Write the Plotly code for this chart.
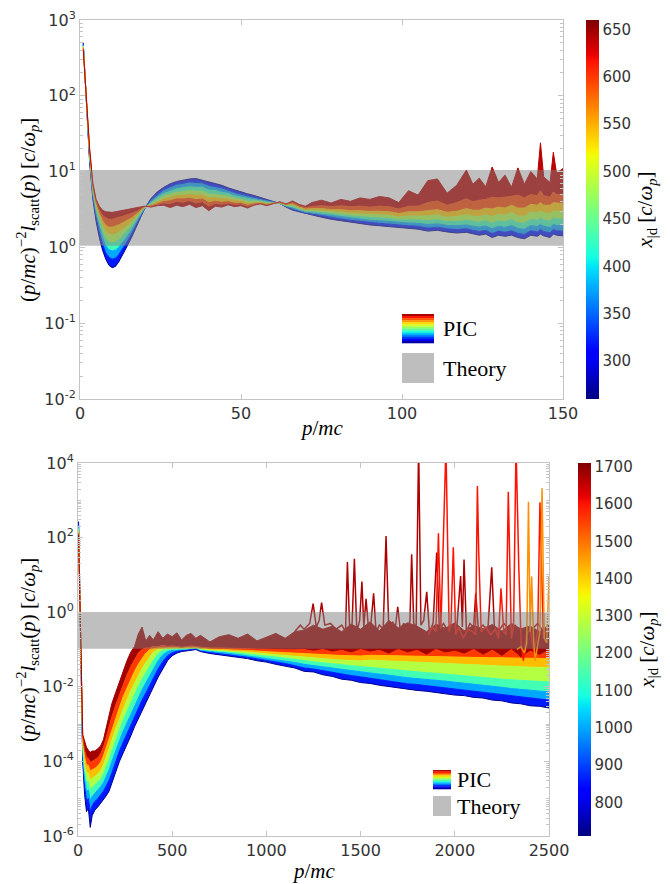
import plotly.graph_objects as go
from plotly.colors import sample_colorscale

# ---------------- data: top panel ----------------
P_TOP = [1, 2, 3, 4, 5, 6, 7, 8, 9, 10, 11, 12, 13, 14, 16, 18, 20, 22, 24, 26, 28, 30, 32, 34, 36, 38,
         40, 42, 44, 46, 48, 50, 52, 54, 56, 58, 60, 62, 64, 66, 68, 70, 72, 75, 78, 81, 84, 87, 90, 93,
         96, 99, 102, 105, 108, 111, 114, 117, 120, 122, 124, 126, 128, 130, 132, 134, 136, 138, 140,
         142, 143, 144, 146, 147, 148, 150]
XD_TOP = [265, 320, 375, 430, 485, 540, 595, 640]
T265 = [500, 75, 13, 4.3, 2.2, 1.35, 0.92, 0.7, 0.58, 0.54, 0.56, 0.64, 0.76, 0.92, 1.35, 2.1, 3.2, 4.4,
        5.4, 6.2, 6.9, 7.4, 7.7, 8.0, 8.1, 7.7, 7.3, 7.0, 6.6, 6.1, 5.7, 5.4, 5.1, 4.85, 4.55, 4.35, 4.1,
        3.8, 3.4, 3.1, 2.95, 2.8, 2.65, 2.5, 2.35, 2.25, 2.15, 2.05, 1.98, 1.93, 1.88, 1.82, 1.78, 1.74,
        1.64, 1.68, 1.6, 1.55, 1.58, 1.5, 1.45, 1.5, 1.35, 1.45, 1.4, 1.45, 1.35, 1.3, 1.45, 1.4, 1.5,
        1.42, 1.35, 1.5, 1.45, 1.42]
T320 = [490, 76, 14, 4.6, 2.5, 1.6, 1.1, 0.85, 0.74, 0.70, 0.72, 0.8, 0.92, 1.08, 1.5, 2.2, 3.2, 4.2,
        5.0, 5.8, 6.3, 6.8, 7.0, 7.3, 7.2, 7.1, 6.6, 6.4, 6.1, 5.7, 5.3, 5.05, 4.8, 4.6, 4.4, 4.2, 4.0,
        3.8, 3.45, 3.2, 3.0, 2.85, 2.75, 2.62, 2.48, 2.38, 2.28, 2.2, 2.12, 2.08, 2.03, 1.96, 1.93, 1.9,
        1.8, 1.85, 1.76, 1.72, 1.76, 1.68, 1.62, 1.68, 1.52, 1.64, 1.58, 1.66, 1.53, 1.48, 1.66, 1.6,
        1.72, 1.62, 1.55, 1.72, 1.66, 1.63]
T375 = [475, 77, 15, 5.0, 2.8, 1.9, 1.35, 1.05, 0.93, 0.90, 0.92, 1.0, 1.12, 1.28, 1.68, 2.35, 3.25, 4.0,
        4.7, 5.3, 5.7, 6.1, 6.3, 6.5, 6.4, 6.4, 5.9, 5.8, 5.5, 5.3, 4.95, 4.75, 4.5, 4.4, 4.25, 4.1, 3.95,
        3.8, 3.5, 3.3, 3.1, 2.92, 2.85, 2.75, 2.62, 2.52, 2.43, 2.36, 2.28, 2.25, 2.2, 2.12, 2.1, 2.08,
        2.0, 2.05, 1.95, 1.93, 1.98, 1.9, 1.85, 1.92, 1.76, 1.9, 1.83, 1.95, 1.78, 1.73, 1.95, 1.88,
        2.02, 1.9, 1.83, 2.02, 1.95, 1.93]
T430 = [460, 78, 16, 5.4, 3.1, 2.2, 1.6, 1.3, 1.18, 1.15, 1.18, 1.25, 1.38, 1.52, 1.9, 2.5, 3.3, 3.85,
        4.4, 4.9, 5.2, 5.5, 5.6, 5.8, 5.7, 5.7, 5.2, 5.2, 5.0, 4.9, 4.6, 4.45, 4.2, 4.2, 4.1, 3.95, 3.9,
        3.8, 3.55, 3.45, 3.2, 3.0, 2.98, 2.9, 2.78, 2.7, 2.6, 2.55, 2.47, 2.45, 2.4, 2.3, 2.32, 2.3,
        2.25, 2.32, 2.2, 2.2, 2.28, 2.2, 2.15, 2.25, 2.08, 2.25, 2.18, 2.35, 2.12, 2.08, 2.35, 2.28,
        2.45, 2.3, 2.22, 2.45, 2.38, 2.35]
T485 = [450, 80, 17, 5.8, 3.4, 2.5, 1.9, 1.6, 1.48, 1.45, 1.5, 1.58, 1.7, 1.82, 2.15, 2.65, 3.35, 3.7,
        4.1, 4.5, 4.7, 5.0, 5.0, 5.2, 5.0, 5.1, 4.6, 4.7, 4.5, 4.5, 4.25, 4.2, 3.95, 4.0, 4.0, 3.85, 3.85,
        3.85, 3.6, 3.6, 3.3, 3.1, 3.1, 3.05, 2.95, 2.9, 2.8, 2.78, 2.7, 2.7, 2.65, 2.52, 2.6, 2.58, 2.6,
        2.68, 2.5, 2.55, 2.68, 2.58, 2.55, 2.7, 2.55, 2.75, 2.65, 2.9, 2.6, 2.58, 2.95, 2.85, 3.05, 2.85,
        2.8, 3.05, 3.0, 2.95]
T540 = [440, 82, 18, 6.2, 3.7, 2.8, 2.25, 1.95, 1.85, 1.85, 1.9, 1.98, 2.08, 2.2, 2.45, 2.85, 3.4, 3.6,
        3.9, 4.15, 4.25, 4.5, 4.5, 4.6, 4.4, 4.5, 4.0, 4.2, 4.05, 4.15, 3.95, 3.95, 3.7, 3.85, 3.9, 3.75,
        3.8, 3.9, 3.65, 3.75, 3.4, 3.2, 3.25, 3.25, 3.15, 3.15, 3.05, 3.05, 2.98, 3.0, 2.95, 2.8, 2.95,
        2.95, 3.05, 3.15, 2.9, 3.0, 3.25, 3.1, 3.1, 3.3, 3.2, 3.4, 3.3, 3.6, 3.3, 3.3, 3.7, 3.6, 3.9,
        3.6, 3.6, 3.9, 3.85, 3.8]
T595 = [425, 84, 19, 6.6, 4.0, 3.1, 2.65, 2.45, 2.35, 2.35, 2.4, 2.45, 2.55, 2.65, 2.8, 3.05, 3.45, 3.5,
        3.7, 3.85, 3.8, 4.05, 3.95, 4.15, 3.85, 4.0, 3.5, 3.8, 3.7, 3.85, 3.7, 3.75, 3.5, 3.7, 3.8, 3.65,
        3.8, 3.95, 3.7, 3.9, 3.55, 3.35, 3.45, 3.55, 3.45, 3.55, 3.45, 3.5, 3.4, 3.5, 3.45, 3.2, 3.5,
        3.5, 3.9, 4.1, 3.6, 3.9, 4.4, 4.0, 4.2, 4.3, 4.6, 4.5, 4.6, 4.7, 4.9, 4.5, 5.0, 4.8, 5.6, 4.8,
        4.6, 5.4, 5.0, 5.0]
T640 = [410, 86, 20, 7.0, 4.3, 3.5, 3.1, 2.95, 2.9, 2.9, 2.95, 3.0, 3.05, 3.1, 3.2, 3.35, 3.5, 3.4,
        3.55, 3.6, 3.35, 3.6, 3.45, 3.7, 3.35, 3.55, 3.05, 3.5, 3.4, 3.65, 3.45, 3.55, 3.3, 3.6, 3.75,
        3.55, 3.8, 4.0, 3.75, 4.1, 3.7, 3.5, 3.9, 4.2, 3.85, 4.3, 4.05, 4.5, 4.3, 4.7, 4.5, 3.9, 5.6,
        4.9, 7.6, 8.0, 5.2, 6.6, 10.5, 6.8, 8.2, 6.3, 11.5, 7.2, 9.0, 6.2, 11.2, 6.8, 10.0, 8.0, 24, 8.5,
        7.2, 18, 9.5, 11.0]
THEORY_TOP = [1.05, 10.5]

# ---------------- data: bottom panel ----------------
P_BOT = [3, 8, 13, 18, 25, 35, 45, 55, 65, 75, 90, 105, 120, 135, 150, 165, 180, 200, 220, 240, 260,
         280, 300, 320, 340, 360, 380, 400, 425, 450, 475, 500, 525, 550, 575, 600, 625, 650, 700, 750,
         800, 850, 900, 950, 1000, 1050, 1100, 1150, 1200, 1250, 1300, 1350, 1400, 1450, 1500, 1550,
         1600, 1650, 1700, 1750, 1800, 1850, 1900, 1950, 2000, 2050, 2100, 2150, 2200, 2250, 2300,
         2350, 2400, 2450, 2500]
XD_BOT = [720, 860, 1000, 1140, 1280, 1420, 1560, 1680]
B720 = [270, 9, 0.3, 0.012, 1e-4, 1.3e-5, 4.5e-6, 5.5e-6, 1.7e-6, 3.5e-6, 5e-6, 6e-6, 7.5e-6, 9e-6,
        1.2e-5, 1.6e-5, 2.6e-5, 5.5e-5, 1.0e-4, 1.7e-4, 2.8e-4, 4.8e-4, 8.5e-4, 1.4e-3, 2.3e-3, 3.6e-3,
        6e-3, 9.5e-3, 0.018, 0.03, 0.05, 0.068, 0.08, 0.088, 0.09, 0.095, 0.1, 0.088, 0.078, 0.072,
        0.066, 0.06, 0.057, 0.05, 0.046, 0.04, 0.036, 0.032, 0.026, 0.025, 0.021, 0.019, 0.016, 0.015,
        0.013, 0.0123, 0.011, 0.0101, 0.0092, 0.0087, 0.008, 0.0076, 0.007, 0.0067, 0.006, 0.0058,
        0.0052, 0.005, 0.0044, 0.0042, 0.0037, 0.0035, 0.0031, 0.003, 0.0027]
B860 = [240, 9, 0.32, 0.014, 1.4e-4, 2.2e-5, 9e-6, 1.0e-5, 4.5e-6, 6.5e-6, 8.5e-6, 1.0e-5, 1.25e-5,
        1.6e-5, 2.2e-5, 3.1e-5, 5e-5, 1.05e-4, 1.9e-4, 3.3e-4, 5.5e-4, 9.5e-4, 1.65e-3, 2.7e-3, 4.4e-3,
        6.8e-3, 0.0108, 0.017, 0.03, 0.048, 0.068, 0.082, 0.09, 0.094, 0.095, 0.1, 0.105, 0.092, 0.083,
        0.078, 0.072, 0.066, 0.062, 0.056, 0.051, 0.047, 0.042, 0.037, 0.032, 0.03, 0.027, 0.024, 0.022,
        0.02, 0.0185, 0.017, 0.0155, 0.014, 0.013, 0.012, 0.0115, 0.0107, 0.0102, 0.0095, 0.0088,
        0.0083, 0.0077, 0.0072, 0.0066, 0.0062, 0.0057, 0.0053, 0.0049, 0.0046, 0.0044]
B1000 = [210, 9.5, 0.34, 0.016, 1.9e-4, 3.5e-5, 1.6e-5, 1.7e-5, 9e-6, 1.15e-5, 1.4e-5, 1.65e-5, 2.1e-5,
         2.7e-5, 3.9e-5, 5.9e-5, 1e-4, 2e-4, 3.6e-4, 6.5e-4, 1.1e-3, 1.9e-3, 3.2e-3, 5.2e-3, 8.3e-3,
         0.0128, 0.0195, 0.03, 0.05, 0.072, 0.088, 0.095, 0.098, 0.1, 0.1, 0.104, 0.108, 0.096, 0.088,
         0.084, 0.079, 0.073, 0.069, 0.063, 0.058, 0.054, 0.049, 0.045, 0.04, 0.037, 0.034, 0.031,
         0.029, 0.027, 0.025, 0.0235, 0.022, 0.02, 0.019, 0.0175, 0.0168, 0.0158, 0.015, 0.0142, 0.0133,
         0.0126, 0.0118, 0.0111, 0.0103, 0.0097, 0.009, 0.0085, 0.008, 0.0076, 0.0073]
B1140 = [185, 9.5, 0.36, 0.018, 2.5e-4, 5.5e-5, 2.8e-5, 2.9e-5, 1.7e-5, 2.0e-5, 2.4e-5, 2.8e-5, 3.4e-5,
         4.6e-5, 7e-5, 1.1e-4, 1.9e-4, 3.8e-4, 7e-4, 1.3e-3, 2.2e-3, 3.8e-3, 6.3e-3, 0.0102, 0.016,
         0.024, 0.036, 0.052, 0.078, 0.095, 0.1, 0.1, 0.102, 0.104, 0.104, 0.107, 0.11, 0.1, 0.093, 0.09,
         0.086, 0.08, 0.077, 0.071, 0.066, 0.063, 0.058, 0.054, 0.05, 0.047, 0.044, 0.041, 0.039, 0.037,
         0.035, 0.033, 0.031, 0.029, 0.028, 0.026, 0.025, 0.024, 0.023, 0.022, 0.021, 0.02, 0.019,
         0.018, 0.017, 0.016, 0.0155, 0.015, 0.0145, 0.014, 0.0135]
B1280 = [165, 10, 0.38, 0.02, 3.2e-4, 8.5e-5, 4.8e-5, 4.8e-5, 3.2e-5, 3.5e-5, 4e-5, 4.6e-5, 5.6e-5,
         8e-5, 1.3e-4, 2.1e-4, 3.7e-4, 7.5e-4, 1.4e-3, 2.6e-3, 4.5e-3, 7.8e-3, 0.0125, 0.02, 0.031,
         0.045, 0.063, 0.085, 0.1, 0.105, 0.105, 0.105, 0.106, 0.107, 0.107, 0.11, 0.113, 0.104, 0.098,
         0.096, 0.093, 0.088, 0.085, 0.08, 0.076, 0.074, 0.069, 0.066, 0.062, 0.06, 0.057, 0.054, 0.052,
         0.05, 0.049, 0.052, 0.05, 0.049, 0.048, 0.047, 0.046, 0.045, 0.044, 0.042, 0.041, 0.04, 0.039,
         0.038, 0.037, 0.036, 0.035, 0.035, 0.034, 0.033, 0.033]
B1420 = [145, 10, 0.4, 0.022, 3.9e-4, 1.3e-4, 8e-5, 7.8e-5, 5.5e-5, 6e-5, 6.5e-5, 7.5e-5, 9.5e-5,
         1.4e-4, 2.4e-4, 4.2e-4, 7.5e-4, 1.5e-3, 2.8e-3, 5.5e-3, 9.5e-3, 0.016, 0.026, 0.04, 0.058,
         0.08, 0.1, 0.105, 0.11, 0.11, 0.11, 0.11, 0.11, 0.11, 0.11, 0.115, 0.116, 0.108, 0.103, 0.102,
         0.1, 0.096, 0.094, 0.09, 0.087, 0.086, 0.082, 0.08, 0.077, 0.076, 0.073, 0.07, 0.069, 0.068,
         0.067, 0.07, 0.069, 0.068, 0.067, 0.066, 0.066, 0.065, 0.064, 0.064, 0.063, 0.062, 0.062,
         0.061, 0.06, 0.06, 0.059, 0.058, 0.058, 0.057, 0.057]
B1560 = [130, 10.5, 0.42, 0.025, 4.5e-4, 2e-4, 1.3e-4, 1.2e-4, 9.5e-5, 1e-4, 1.1e-4, 1.25e-4, 1.6e-4,
         2.4e-4, 4.4e-4, 8.5e-4, 1.6e-3, 3.2e-3, 6e-3, 0.012, 0.021, 0.035, 0.055, 0.08, 0.1, 0.11,
         0.11, 0.12, 0.12, 0.13, 0.12, 0.125, 0.12, 0.115, 0.12, 0.125, 0.12, 0.115, 0.11, 0.11, 0.108,
         0.105, 0.104, 0.1, 0.1, 0.1, 0.098, 0.098, 0.1, 0.09, 0.1, 0.085, 0.095, 0.08, 0.1, 0.085,
         0.095, 0.075, 0.1, 0.08, 0.095, 0.07, 0.1, 0.08, 0.09, 0.075, 0.1, 0.07, 0.095, 0.065, 0.1,
         0.06, 0.09, 0.07, 0.095]
B1680 = [115, 11, 0.45, 0.028, 5.2e-4, 3.4e-4, 2.4e-4, 2.0e-4, 1.75e-4, 1.9e-4, 1.9e-4, 2.2e-4, 2.6e-4,
         3.8e-4, 8e-4, 2e-3, 3.6e-3, 7e-3, 0.014, 0.028, 0.05, 0.085, 0.12, 0.26, 0.4, 0.17, 0.24, 0.18,
         0.3, 0.2, 0.26, 0.22, 0.28, 0.18, 0.24, 0.27, 0.2, 0.24, 0.16, 0.22, 0.25, 0.2, 0.26, 0.17,
         0.21, 0.27, 0.2, 0.3, 0.33, 0.45, 0.35, 0.42, 0.3, 0.48, 0.35, 0.55, 0.32, 0.6, 0.38, 0.52,
         0.42, 0.3, 0.48, 0.37, 0.52, 0.32, 0.44, 0.36, 0.47, 0.31, 0.5, 0.36, 0.42, 0.3, 0.45]
# individual spiky curves
XD_SPIKES = [1670, 1600, 1470]
SPK1_P = [1150, 1180, 1200, 1230, 1248, 1265, 1280, 1293, 1310, 1340, 1370, 1400, 1420, 1430, 1442,
          1455, 1467, 1480, 1495, 1507, 1517, 1529, 1542, 1555, 1569, 1582, 1600, 1620, 1635, 1650,
          1670, 1685, 1697, 1710, 1730, 1750, 1762, 1771, 1782, 1795, 1808, 1820, 1835, 1851, 1865,
          1885, 1904, 1918, 1940, 1965, 1990, 2010, 2031, 2040, 2049, 2062, 2080, 2100, 2111, 2125,
          2150, 2175, 2196, 2210, 2230, 2260, 2290, 2320, 2350, 2380, 2410, 2440, 2470, 2500]
SPK1_V = [0.3, 0.45, 0.35, 0.5, 1.7, 0.4, 0.6, 1.8, 0.45, 0.5, 0.35, 0.45, 0.3, 22, 0.35, 0.5, 27, 0.3,
          0.6, 6.6, 0.4, 2.3, 0.35, 0.5, 3.2, 0.3, 0.45, 0.35, 110, 0.3, 0.55, 0.4, 1.4, 0.35, 0.5, 0.3,
          0.6, 36, 0.5, 0.4, 30000, 0.45, 0.6, 3.5, 0.3, 0.5, 40, 0.35, 0.5, 0.3, 0.45, 0.35, 9.3, 0.4,
          26, 0.3, 0.5, 0.4, 3.2, 0.35, 0.45, 0.3, 16, 0.4, 0.3, 0.5, 0.35, 0.45, 0.3, 0.4, 0.35, 0.5,
          0.3, 0.4]
SPK2_P = [1860, 1880, 1900, 1913, 1926, 1943, 1953, 1957, 1970, 1980, 1992, 2005, 2020, 2045, 2070,
          2095, 2110, 2120, 2127, 2140, 2165, 2190, 2215, 2232, 2245, 2260, 2272, 2284, 2300, 2312,
          2325, 2340, 2352, 2364, 2380, 2400, 2420, 2440, 2452, 2470, 2490, 2500]
SPK2_V = [0.25, 0.4, 0.3, 130, 0.35, 740, 30000, 1900, 0.3, 0.5, 55, 0.25, 0.4, 0.2, 0.35, 0.3, 0.25,
          2400, 40, 0.3, 0.4, 0.25, 0.35, 0.2, 4.4, 0.3, 0.25, 1700, 0.2, 0.4, 30000, 14, 0.15, 0.05,
          0.25, 0.35, 0.08, 0.3, 880, 0.2, 0.35, 0.3]
SPK3_P = [2330, 2350, 2370, 2382, 2391, 2400, 2408, 2418, 2426, 2440, 2452, 2463, 2475, 2488, 2500]
SPK3_V = [0.1, 0.12, 0.08, 0.15, 920, 0.3, 9, 0.2, 0.05, 0.15, 0.3, 2100, 0.2, 0.15, 9]
THEORY_BOT = [0.105, 1.02]

TOP_CURVES = [T265, T320, T375, T430, T485, T540, T595, T640]
BOT_CURVES = [B720, B860, B1000, B1140, B1280, B1420, B1560, B1680]
TOP_CRANGE = [260, 660]
BOT_CRANGE = [710, 1710]
TOP_CTICKS = [300, 350, 400, 450, 500, 550, 600, 650]
BOT_CTICKS = [800, 900, 1000, 1100, 1200, 1300, 1400, 1500, 1600, 1700]

# ---------------- styling ----------------
W, H = 670, 884
JET = [[0.0, 'rgb(0,0,128)'], [0.11, 'rgb(0,0,255)'], [0.125, 'rgb(0,0,255)'],
       [0.34, 'rgb(0,219,255)'], [0.35, 'rgb(0,230,247)'], [0.375, 'rgb(21,255,226)'],
       [0.64, 'rgb(239,255,8)'], [0.65, 'rgb(247,245,0)'], [0.66, 'rgb(255,236,0)'],
       [0.89, 'rgb(255,19,0)'], [0.91, 'rgb(232,0,0)'], [1.0, 'rgb(128,0,0)']]


def jet(v, rng):
    t = (v - rng[0]) / (rng[1] - rng[0])
    t = min(max(t, 0.0), 1.0)
    return sample_colorscale(JET, [t])[0]


def px(x):
    return x / W


def py(y):
    return 1 - y / H


SERIF = 'Liberation Serif'
SANS = 'DejaVu Sans'
AXC = '#c4c4c4'
TICKC = '#333333'

fig = go.Figure()

# top panel curves
for i, (xd, vals) in enumerate(zip(XD_TOP, TOP_CURVES)):
    c = jet(xd, TOP_CRANGE)
    fig.add_trace(go.Scatter(x=P_TOP, y=vals, mode='lines', line=dict(color=c, width=1),
                             fill='tonexty' if i > 0 else 'none', fillcolor=c,
                             xaxis='x', yaxis='y', hoverinfo='skip', showlegend=False))
fig.add_trace(go.Scatter(x=[0, P_TOP[-1], P_TOP[-1], 0, 0],
                         y=[THEORY_TOP[0], THEORY_TOP[0], THEORY_TOP[1], THEORY_TOP[1], THEORY_TOP[0]],
                         mode='lines', line=dict(width=0), fill='toself',
                         fillcolor='rgba(128,128,128,0.5)', xaxis='x', yaxis='y',
                         hoverinfo='skip', showlegend=False))
fig.add_trace(go.Scatter(x=[P_TOP[0]] * len(XD_TOP), y=[v[0] for v in TOP_CURVES], mode='markers',
                         marker=dict(color=XD_TOP, coloraxis='coloraxis', opacity=0, size=1),
                         xaxis='x', yaxis='y', hoverinfo='skip', showlegend=False))

# bottom panel curves
for i, (xd, vals) in enumerate(zip(XD_BOT, BOT_CURVES)):
    c = jet(xd, BOT_CRANGE)
    fig.add_trace(go.Scatter(x=P_BOT, y=vals, mode='lines', line=dict(color=c, width=1),
                             fill='tonexty' if i > 0 else 'none', fillcolor=c,
                             xaxis='x2', yaxis='y2', hoverinfo='skip', showlegend=False))
for xd, sp, sv in zip(XD_SPIKES, [SPK1_P, SPK2_P, SPK3_P], [SPK1_V, SPK2_V, SPK3_V]):
    fig.add_trace(go.Scatter(x=sp, y=sv, mode='lines', line=dict(color=jet(xd, BOT_CRANGE), width=1.5),
                             xaxis='x2', yaxis='y2', hoverinfo='skip', showlegend=False))
fig.add_trace(go.Scatter(x=[0, P_BOT[-1], P_BOT[-1], 0, 0],
                         y=[THEORY_BOT[0], THEORY_BOT[0], THEORY_BOT[1], THEORY_BOT[1], THEORY_BOT[0]],
                         mode='lines', line=dict(width=0), fill='toself',
                         fillcolor='rgba(128,128,128,0.5)', xaxis='x2', yaxis='y2',
                         hoverinfo='skip', showlegend=False))
fig.add_trace(go.Scatter(x=[P_BOT[0]] * len(XD_BOT), y=[v[0] for v in BOT_CURVES], mode='markers',
                         marker=dict(color=XD_BOT, coloraxis='coloraxis2', opacity=0, size=1),
                         xaxis='x2', yaxis='y2', hoverinfo='skip', showlegend=False))


def sup(e):
    return '10<sup>%s</sup>' % e


xcommon = dict(showgrid=False, zeroline=False, showline=True, linecolor=AXC, linewidth=1,
               mirror='ticks', ticks='inside', ticklen=5, tickcolor=AXC,
               tickfont=dict(family=SANS, size=16, color=TICKC))
ycommon = dict(type='log', showgrid=False, zeroline=False, showline=True, linecolor=AXC, linewidth=1,
               mirror='ticks', ticks='inside', ticklen=5, tickcolor=AXC,
               tickfont=dict(family=SANS, size=16, color=TICKC),
               minor=dict(ticks='inside', ticklen=3, tickcolor=AXC, dtick='D1', showgrid=False))

top_yt = [-2, -1, 0, 1, 2, 3]
bot_yt = [-6, -4, -2, 0, 2, 4]
ctitle = '<i>x</i><sub>|d</sub> [<i>c</i>/<i>\u03c9</i><sub><i>p</i></sub>]'


def cbar(x, yc, ln, ticks):
    return dict(x=px(x), xanchor='left', xpad=0, ypad=0,
                y=py(yc), yanchor='middle', len=ln, lenmode='pixels',
                thickness=13, thicknessmode='pixels', outlinewidth=0,
                tickvals=ticks, ticks='', tickfont=dict(family=SANS, size=15, color=TICKC),
                title=dict(text=ctitle, side='right', font=dict(family=SERIF, size=21, color='black')))


fig.update_layout(
    width=W, height=H, margin=dict(l=0, r=0, t=0, b=0, autoexpand=False),
    paper_bgcolor='white', plot_bgcolor='white', showlegend=False,
    xaxis=dict(xcommon, domain=[px(80), px(563)], range=[0, 150], anchor='y',
               tickvals=[0, 50, 100, 150]),
    yaxis=dict(ycommon, domain=[py(399), py(20)], range=[-2, 3], anchor='x',
               tickvals=[10 ** e for e in top_yt], ticktext=[sup(e) for e in top_yt]),
    xaxis2=dict(xcommon, domain=[px(78), px(549)], range=[0, 2500], anchor='y2',
                tickvals=[0, 500, 1000, 1500, 2000, 2500]),
    yaxis2=dict(ycommon, domain=[py(836), py(463)], range=[-6, 4], anchor='x2',
                tickvals=[10.0 ** e for e in bot_yt], ticktext=[sup(e) for e in bot_yt]),
    coloraxis=dict(colorscale=JET, cmin=TOP_CRANGE[0], cmax=TOP_CRANGE[1],
                   colorbar=cbar(586, 209.5, 379, TOP_CTICKS)),
    coloraxis2=dict(colorscale=JET, cmin=BOT_CRANGE[0], cmax=BOT_CRANGE[1],
                    colorbar=cbar(578, 649.5, 373, BOT_CTICKS)),
)

ytitle = ('(<i>p</i>/<i>mc</i>)<sup>\u22122</sup><i>l</i><sub>scatt</sub>(<i>p</i>) '
          '[<i>c</i>/<i>\u03c9</i><sub><i>p</i></sub>]')
xtitle = '<i>p</i>/<i>mc</i>'
ann = []
for (x, y, t, ang) in [(27, 210, ytitle, -90), (27, 650, ytitle, -90),
                       (321.5, 428, xtitle, 0), (313.5, 871, xtitle, 0)]:
    ann.append(dict(x=px(x), y=py(y), xref='paper', yref='paper', text=t, showarrow=False,
                    textangle=ang, xanchor='center', yanchor='middle',
                    font=dict(family=SERIF, size=21, color='black')))

# legends (PIC gradient patch + Theory patch)
shapes = []
for (lx0, lx1, py0, py1, ty0, ty1, tx) in [(402, 434, 314, 343, 353, 383, 441),
                                           (433, 451, 770, 789, 796, 816, 455)]:
    n = 14
    h = (py1 - py0) / n
    for k in range(n):
        col = sample_colorscale(JET, [1 - (k + 0.5) / n])[0]
        shapes.append(dict(type='rect', xref='paper', yref='paper', x0=px(lx0), x1=px(lx1),
                           y0=py(py0 + (k + 1) * h + 0.3), y1=py(py0 + k * h),
                           fillcolor=col, line=dict(width=0)))
    shapes.append(dict(type='rect', xref='paper', yref='paper', x0=px(lx0), x1=px(lx1),
                       y0=py(ty1), y1=py(ty0), fillcolor='rgb(190,190,190)', line=dict(width=0)))
    ann.append(dict(x=px(tx), y=py((py0 + py1) / 2), xref='paper', yref='paper', text='PIC',
                    showarrow=False, xanchor='left', yanchor='middle',
                    font=dict(family=SERIF, size=22, color='black')))
    ann.append(dict(x=px(tx), y=py((ty0 + ty1) / 2), xref='paper', yref='paper', text='Theory',
                    showarrow=False, xanchor='left', yanchor='middle',
                    font=dict(family=SERIF, size=22, color='black')))

fig.update_layout(annotations=ann, shapes=shapes)

fig.write_html('out.html', config={'displayModeBar': False},
               post_script="document.body.style.margin='0';")
